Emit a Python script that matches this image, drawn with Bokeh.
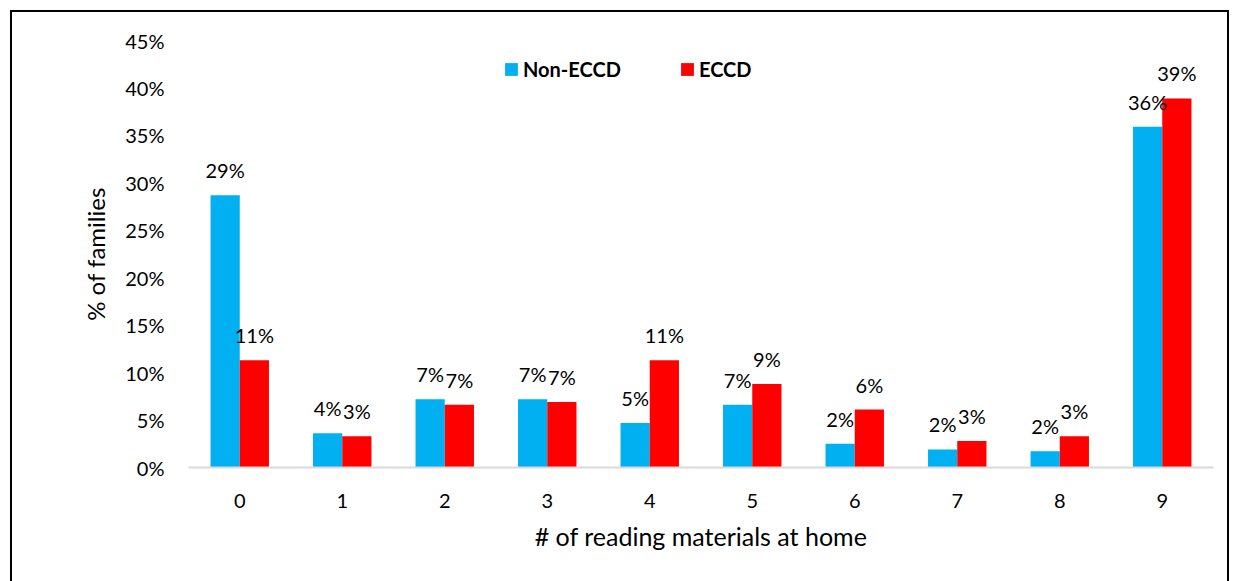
from bokeh.plotting import figure
from bokeh.models import (ColumnDataSource, FactorRange, Range1d, LabelSet, Legend,
                          LegendItem, PrintfTickFormatter, InlineStyleSheet)
from bokeh.core.properties import value
from bokeh.transform import dodge
from bokeh.embed import file_html
from bokeh.resources import INLINE

# Share of families (%) by number of reading materials at home
categories = ["0", "1", "2", "3", "4", "5", "6", "7", "8", "9"]
non_eccd = [28.7, 3.6, 7.2, 7.2, 4.7, 6.6, 2.5, 1.9, 1.7, 35.9]
eccd = [11.3, 3.3, 6.6, 6.9, 11.3, 8.8, 6.1, 2.8, 3.3, 38.9]
y_ticks = [0, 5, 10, 15, 20, 25, 30, 35, 40, 45]

FONT = "Lato"
BLUE = "#00B0F0"
RED = "#FF0000"

src = ColumnDataSource(dict(
    cat=categories,
    non=non_eccd,
    ecc=eccd,
    non_lbl=[f"{round(v)}%" for v in non_eccd],
    ecc_lbl=[f"{round(v)}%" for v in eccd],
))

# thin black frame around the whole chart (open at the bottom edge of the page)
frame_css = InlineStyleSheet(css="""
:host { overflow: hidden; }
:host::after {
  content: ""; position: absolute; left: 10px; top: 10px; right: 9px; height: 620px;
  border: 2px solid black; box-sizing: border-box; pointer-events: none;
}
""")

p = figure(width=1238, height=581, x_range=FactorRange(factors=categories, range_padding=0),
           y_range=Range1d(0, 45), output_backend="svg", toolbar_location=None,
           min_border_left=188, min_border_right=25, min_border_top=40, min_border_bottom=114,
           stylesheets=[frame_css])
p.outline_line_color = None
p.xgrid.grid_line_color = None
p.ygrid.grid_line_color = None

bw = 0.285
r_non = p.vbar(x=dodge("cat", -bw / 2, range=p.x_range), top="non", width=bw, source=src,
               fill_color=BLUE, line_color=None)
r_ecc = p.vbar(x=dodge("cat", bw / 2, range=p.x_range), top="ecc", width=bw, source=src,
               fill_color=RED, line_color=None)

for col, off in (("non", -bw / 2), ("ecc", bw / 2)):
    p.add_layout(LabelSet(x=dodge("cat", off, range=p.x_range), y=col, text=col + "_lbl",
                          source=src, text_align="center", text_baseline="alphabetic",
                          y_offset=17, text_font=value(FONT), text_font_size="20px",
                          text_color="black"))

# axes
p.yaxis.ticker = y_ticks
p.yaxis.formatter = PrintfTickFormatter(format="%d%%")
p.yaxis.axis_line_color = None
p.yaxis.major_tick_line_color = None
p.yaxis.minor_tick_line_color = None
p.yaxis.major_label_standoff = 18
p.yaxis.major_label_text_font = FONT
p.yaxis.major_label_text_font_size = "20px"
p.yaxis.major_label_text_color = "black"
p.yaxis.axis_label = "% of families"
p.yaxis.axis_label_text_font = FONT
p.yaxis.axis_label_text_font_size = "24px"
p.yaxis.axis_label_text_font_style = "normal"
p.yaxis.axis_label_text_color = "black"
p.yaxis.axis_label_standoff = 12

p.xaxis.axis_line_color = "#D9D9D9"
p.xaxis.axis_line_width = 2
p.xaxis.major_tick_line_color = None
p.xaxis.minor_tick_line_color = None
p.xaxis.major_label_standoff = 20
p.xaxis.major_label_text_font = FONT
p.xaxis.major_label_text_font_size = "20px"
p.xaxis.major_label_text_color = "black"
p.xaxis.axis_label = "# of reading materials at home"
p.xaxis.axis_label_text_font = FONT
p.xaxis.axis_label_text_font_size = "25px"
p.xaxis.axis_label_text_font_style = "normal"
p.xaxis.axis_label_text_color = "black"
p.xaxis.axis_label_standoff = 10

# legend entries placed separately across the top
for label, rend, xloc in (("Non-ECCD", r_non, 315), ("ECCD", r_ecc, 491)):
    lg = Legend(items=[LegendItem(label=label, renderers=[rend])], location=(xloc, 386),
                glyph_width=16, glyph_height=16, label_standoff=4, padding=0, margin=0,
                border_line_color=None, background_fill_alpha=0,
                label_text_font=FONT, label_text_font_size="20px",
                label_text_font_style="bold", label_text_color="black")
    p.add_layout(lg)

open("out.html", "w").write(file_html(p, INLINE))
